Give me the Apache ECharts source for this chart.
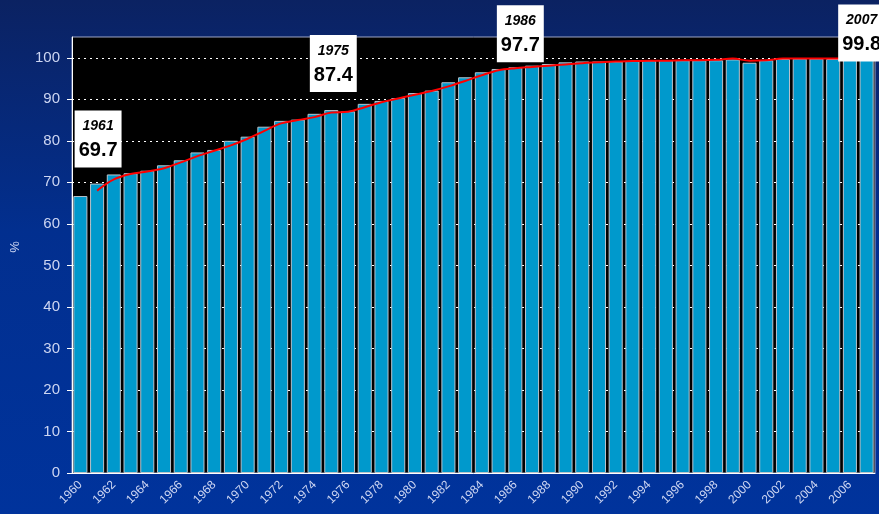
<!DOCTYPE html>
<html lang="en">
<head>
    <meta charset="UTF-8">
    <title>Coverage 1960-2007</title>
    <script type="text/javascript" src="https://cdn.jsdelivr.net/npm/echarts@6/dist/echarts.min.js"></script>
    <style>
        html, body { margin: 0; padding: 0; }
    </style>
</head>
<body>
<div id="main" style="width: 879px;height: 514px"></div>

<script>
    var years = [];
    for (var y = 1960; y <= 2007; y++) years.push(String(y));

    var barValues = [66.7, 69.7, 71.9, 72.2, 72.8, 74.1, 75.3, 77.2, 77.8, 80.0,
        81.0, 83.4, 84.8, 85.1, 86.5, 87.4, 87.1, 88.9, 89.6, 90.3,
        91.5, 92.1, 94.1, 95.3, 96.5, 97.3, 97.7, 98.1, 98.5, 98.9,
        99.1, 99.1, 99.1, 99.2, 99.3, 99.4, 99.4, 99.4, 99.4, 99.6,
        98.8, 99.4, 99.7, 99.8, 99.8, 99.7, 99.8, 99.8];

    var trendValues = [null, 68.0, 70.7, 72.0, 72.6, 73.4, 74.8, 76.3, 77.6, 78.9,
        80.5, 82.4, 84.2, 85.0, 85.7, 86.8, 87.0, 88.1, 89.3, 90.2,
        91.1, 92.0, 93.1, 94.4, 95.8, 97.0, 97.5, 97.8, 98.1, 98.4,
        98.7, 98.9, 99.1, 99.2, 99.3, 99.3, 99.4, 99.4, 99.5, 99.8,
        99.3, 99.4, 99.8, 99.8, 99.8, 99.8, 99.8, 99.8];

    // highlighted years with their callout shifts [dx, dy]
    var calloutYears = ['1961', '1975', '1986', '2007'];
    var calloutShift = [[1, -16], [2, -18], [5, -5], [-5, 3]];

    var callouts = calloutYears.map(function (yr, i) {
        var idx = years.indexOf(yr);
        return {
            value: [yr, barValues[idx]],
            label: { offset: calloutShift[i] }
        };
    });

    var chartDom = document.getElementById('main');
    var myChart = echarts.init(chartDom);
    var option;

    var axisText = '#cdd6f2';

    option = {
        animation: false,
        backgroundColor: {
            type: 'linear', x: 0, y: 0, x2: 0, y2: 1,
            colorStops: [
                { offset: 0, color: '#0b2262' },
                { offset: 0.45, color: '#022f8f' },
                { offset: 1, color: '#00339c' }
            ]
        },
        grid: {
            left: 72,
            right: 4,
            top: 37,
            bottom: 41,
            outerBoundsMode: 'none',
            containLabel: false,
            show: true,
            backgroundColor: '#000000',
            borderColor: '#9ea6c6',
            borderWidth: 1
        },
        xAxis: {
            type: 'category',
            data: years,
            axisLine: { lineStyle: { color: '#ffffff', width: 1 } },
            axisTick: { interval: 0, length: 4, lineStyle: { color: '#ffffff' } },
            axisLabel: {
                interval: 1,
                rotate: 45,
                color: axisText,
                fontFamily: 'Liberation Sans',
                fontSize: 12,
                margin: 10
            }
        },
        yAxis: {
            type: 'value',
            min: 0,
            max: 105,
            interval: 10,
            name: '%',
            nameLocation: 'middle',
            nameGap: 50,
            nameRotate: 90,
            nameTextStyle: {
                color: axisText,
                fontFamily: 'Liberation Sans',
                fontSize: 13,
                padding: [0, 0, 0, 16]
            },
            axisLine: { show: true, lineStyle: { color: '#ffffff' } },
            axisTick: { show: true, length: 5, lineStyle: { color: '#ffffff' } },
            axisLabel: {
                color: axisText,
                fontFamily: 'Liberation Sans',
                fontSize: 15,
                margin: 12,
                showMaxLabel: false
            },
            splitLine: {
                showMaxLine: false,
                lineStyle: { color: '#ffffff', type: [2, 4], width: 1 }
            }
        },
        series: [
            {
                name: 'coverage',
                type: 'bar',
                data: barValues,
                barCategoryGap: '16%',
                itemStyle: {
                    color: '#0099cc',
                    borderColor: '#b9c3cc',
                    borderWidth: 1
                },
                z: 2
            },
            {
                name: 'trend',
                type: 'line',
                data: trendValues,
                smooth: 0.35,
                showSymbol: false,
                symbol: 'none',
                lineStyle: { color: '#ff0000', width: 2 },
                z: 3
            },
            {
                name: 'callouts',
                type: 'scatter',
                data: callouts,
                symbolSize: 0,
                itemStyle: { opacity: 1 },
                z: 10,
                label: {
                    show: true,
                    position: 'top',
                    distance: 0,
                    opacity: 1,
                    backgroundColor: '#ffffff',
                    padding: [5, 4, 4, 4],
                    align: 'center',
                    formatter: function (p) {
                        return '{y|' + p.value[0] + '}\n{v|' + p.value[1].toFixed(1) + '}';
                    },
                    rich: {
                        y: {
                            fontFamily: 'Liberation Sans',
                            fontStyle: 'italic',
                            fontWeight: 'bold',
                            fontSize: 14,
                            lineHeight: 22,
                            color: '#000000'
                        },
                        v: {
                            fontFamily: 'Liberation Sans',
                            fontWeight: 'bold',
                            fontSize: 20,
                            lineHeight: 26,
                            color: '#000000'
                        }
                    }
                }
            }
        ]
    };

    myChart.setOption(option);
</script>
</body>
</html>
